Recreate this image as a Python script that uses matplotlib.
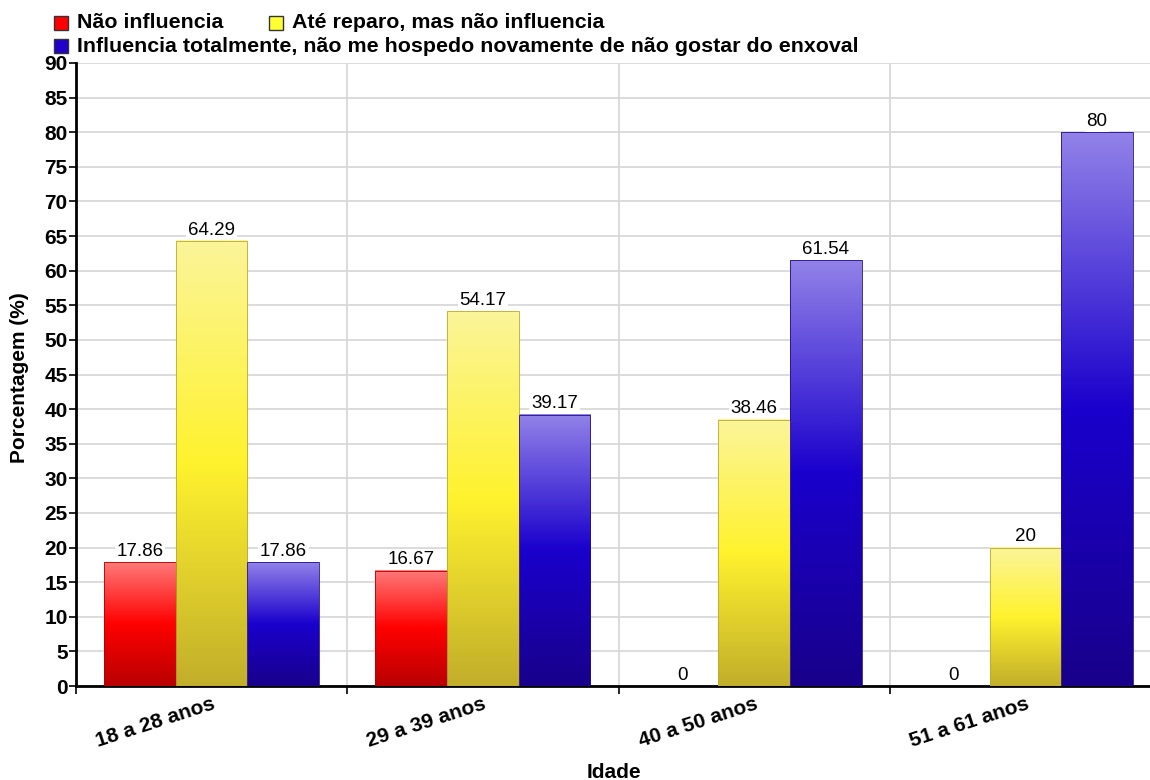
import numpy as np
import matplotlib
matplotlib.use("Agg")
import matplotlib.pyplot as plt
from matplotlib.colors import LinearSegmentedColormap
from matplotlib.patches import Rectangle

plt.rcParams["font.family"] = ["Liberation Sans", "DejaVu Sans"]

# Dados
categorias = ["18 a 28 anos", "29 a 39 anos", "40 a 50 anos", "51 a 61 anos"]
nao_influencia = [17.86, 16.67, 0, 0]
ate_reparo = [64.29, 54.17, 38.46, 20]
influencia_total = [17.86, 39.17, 61.54, 80]

series = [
    ("Não influencia", nao_influencia, "#ff0000", ["#b80000", "#ff0000", "#ff7a7a"], "#b00000"),
    ("Até reparo, mas não influencia", ate_reparo, "#ffff33", ["#c2ae2a", "#fff22e", "#fbf59a"], "#b8aa30"),
    ("Influencia totalmente, não me hospedo novamente de não gostar do enxoval",
     influencia_total, "#2200cc", ["#18008a", "#1a00cc", "#9282e8"], "#24108a"),
]

W, H = 1150, 780
fig = plt.figure(figsize=(11.5, 7.8), dpi=100)
ax = fig.add_axes([76 / W, 1 - 686 / H, 1085 / W, 623 / H])

x = np.arange(len(categorias))
largura = 0.264

for i, (nome, valores, cor, grad, borda) in enumerate(series):
    cmap = LinearSegmentedColormap.from_list(nome, [(0, grad[0]), (0.5, grad[1]), (1, grad[2])])
    pos = x + (i - 1) * largura
    barras = ax.bar(pos, valores, largura, color="none", edgecolor=borda, linewidth=0.6, zorder=4)
    for b, v in zip(barras, valores):
        if v > 0:
            ax.imshow(np.linspace(0, 1, 256).reshape(-1, 1), cmap=cmap, origin="lower",
                      aspect="auto", extent=[b.get_x(), b.get_x() + b.get_width(), 0, v],
                      zorder=3, interpolation="bilinear")
        ax.text(b.get_x() + b.get_width() / 2, v + 0.35, f"{v:g}", ha="center", va="bottom",
                fontsize=13.5, zorder=5,
                bbox=dict(boxstyle="square,pad=0.1", facecolor="white", edgecolor="none"))

ax.set_xlim(-0.5, len(categorias) - 0.5)
ax.set_ylim(0, 90)
ax.set_yticks(np.arange(0, 91, 5))
ax.set_xticks(np.arange(len(categorias) + 1) - 0.5)
ax.set_xticklabels([])
ax.set_xticks(x, minor=True)
ax.set_xticklabels(categorias, minor=True, rotation=18, ha="right", rotation_mode="anchor",
                   fontsize=15, fontweight="bold")
ax.tick_params(axis="x", which="minor", length=0, pad=6)
ax.tick_params(axis="x", which="major", length=6, width=1.2)
ax.tick_params(axis="y", length=5, width=1.2, labelsize=15, pad=1)
for t in ax.get_yticklabels():
    t.set_fontweight("bold")

ax.grid(True, which="major", color="#d6d6d6", linewidth=1.2, zorder=0)
ax.set_axisbelow(True)
for s in ["top", "right"]:
    ax.spines[s].set_visible(False)
ax.spines["left"].set_linewidth(2)
ax.spines["bottom"].set_linewidth(2)

fig.text(614 / W, 1 - 772 / H, "Idade", ha="center", va="center", fontsize=15, fontweight="bold")
fig.text(20 / W, 1 - 378 / H, "Porcentagem (%)", ha="center", va="center", rotation=90,
         fontsize=15, fontweight="bold")

# Legenda manual
leg_pos = [(54, 23), (269, 23), (54, 46)]
for (nome, valores, cor, grad, borda), (lx, ly) in zip(series, leg_pos):
    fig.patches.append(Rectangle((lx / W, 1 - (ly + 7) / H), 14 / W, 14 / H,
                                 transform=fig.transFigure, facecolor=cor,
                                 edgecolor="#333333", linewidth=1))
    fig.text((lx + 23) / W, 1 - ly / H, nome, ha="left", va="center", fontsize=15.4,
             fontweight="bold")

fig.savefig("out.png", dpi=100)
